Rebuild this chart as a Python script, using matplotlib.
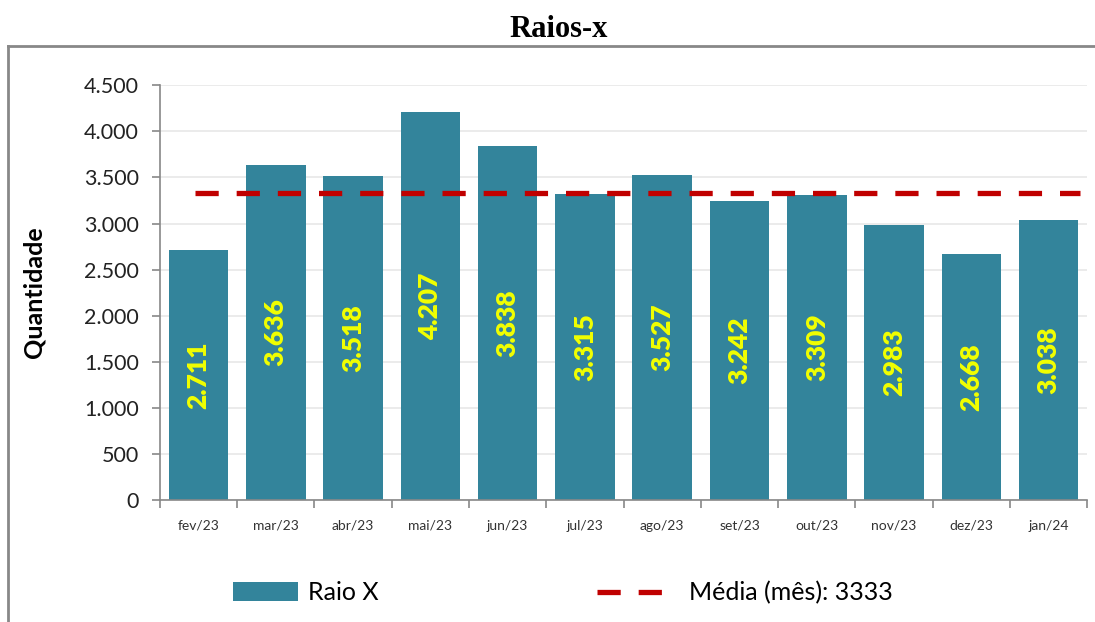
import matplotlib
matplotlib.use("Agg")
import matplotlib.pyplot as plt
from matplotlib.lines import Line2D
from matplotlib.patches import Patch
from matplotlib.ticker import FuncFormatter, MultipleLocator

# Dados do gráfico
meses = ['fev/23', 'mar/23', 'abr/23', 'mai/23', 'jun/23', 'jul/23',
         'ago/23', 'set/23', 'out/23', 'nov/23', 'dez/23', 'jan/24']
raio_x = [2711, 3636, 3518, 4207, 3838, 3315, 3527, 3242, 3309, 2983, 2668, 3038]
media = 3333

cor_barra = '#33849B'
cor_media = '#C00000'
traco = (0, (4.4, 3.4))

plt.rcParams['font.family'] = ['Lato', 'DejaVu Sans']

fig = plt.figure(figsize=(10.95, 6.22), dpi=100)
ax = fig.add_axes([0.146, 0.196, 0.847, 0.667])

x = list(range(len(meses)))
bars = ax.bar(x, raio_x, width=0.77, color=cor_barra, zorder=2)

# rótulos dentro das barras
for xi, v in zip(x, raio_x):
    txt = f'{v:,}'.replace(',', '.')
    ax.text(xi, v / 2, txt, rotation=90, ha='center', va='center',
            color='#F2FF00', fontsize=19, fontweight='heavy', zorder=3)

ax.hlines(media, -0.04, 11.4, colors=cor_media, linestyles=traco,
          linewidth=3.8, zorder=4)

ax.set_xlim(-0.5, 11.5)
ax.set_ylim(0, 4500)
ax.yaxis.set_major_locator(MultipleLocator(500))
ax.yaxis.set_major_formatter(FuncFormatter(lambda v, p: f'{int(v):,}'.replace(',', '.')))
ax.set_xticks(x)
ax.set_xticklabels(meses, fontsize=10, color='#333333')
ax.set_xticks([i - 0.5 for i in range(len(meses) + 1)], minor=True)
ax.tick_params(axis='x', which='major', length=0, pad=14)
ax.tick_params(axis='x', which='minor', length=6, color='#888888', width=1.2)
ax.tick_params(axis='y', labelsize=15.5, length=6, color='#888888', width=1.2,
               pad=9, labelcolor='#222222')

ax.grid(axis='y', color='#E8E8E8', linewidth=1.2, zorder=0)
for s in ['top', 'right']:
    ax.spines[s].set_visible(False)
for s in ['left', 'bottom']:
    ax.spines[s].set_color('#888888')
    ax.spines[s].set_linewidth(1.2)

ax.set_ylabel('Quantidade', fontsize=18, fontweight='bold')
ax.yaxis.set_label_coords(-0.123, 0.5)

# moldura da área do gráfico
fig.add_artist(Line2D([0.0073, 0.0073], [0.926, 0.0], color='#888888', lw=2))
fig.add_artist(Line2D([0.0073, 1.0], [0.926, 0.926], color='#888888', lw=2))

fig.text(0.51, 0.952, 'Raios-x', ha='center', va='center', fontsize=22,
         fontweight='bold', family='Liberation Serif')

h_barra = [Patch(facecolor=cor_barra, label='Raio X')]
h_media = [Line2D([0], [0], color=cor_media, lw=3.8, linestyle=traco,
                  label='Média (mês): 3333')]
leg1 = fig.legend(handles=h_barra, loc='center left', bbox_to_anchor=(0.213, 0.047),
                  frameon=False, fontsize=18, handlelength=2.6, handleheight=0.8,
                  handletextpad=0.4, borderpad=0, borderaxespad=0)
leg2 = fig.legend(handles=h_media, loc='center left', bbox_to_anchor=(0.545, 0.047),
                  frameon=False, fontsize=18, handlelength=2.6,
                  handletextpad=1.1, borderpad=0, borderaxespad=0)

fig.savefig('out.png', dpi=100)
